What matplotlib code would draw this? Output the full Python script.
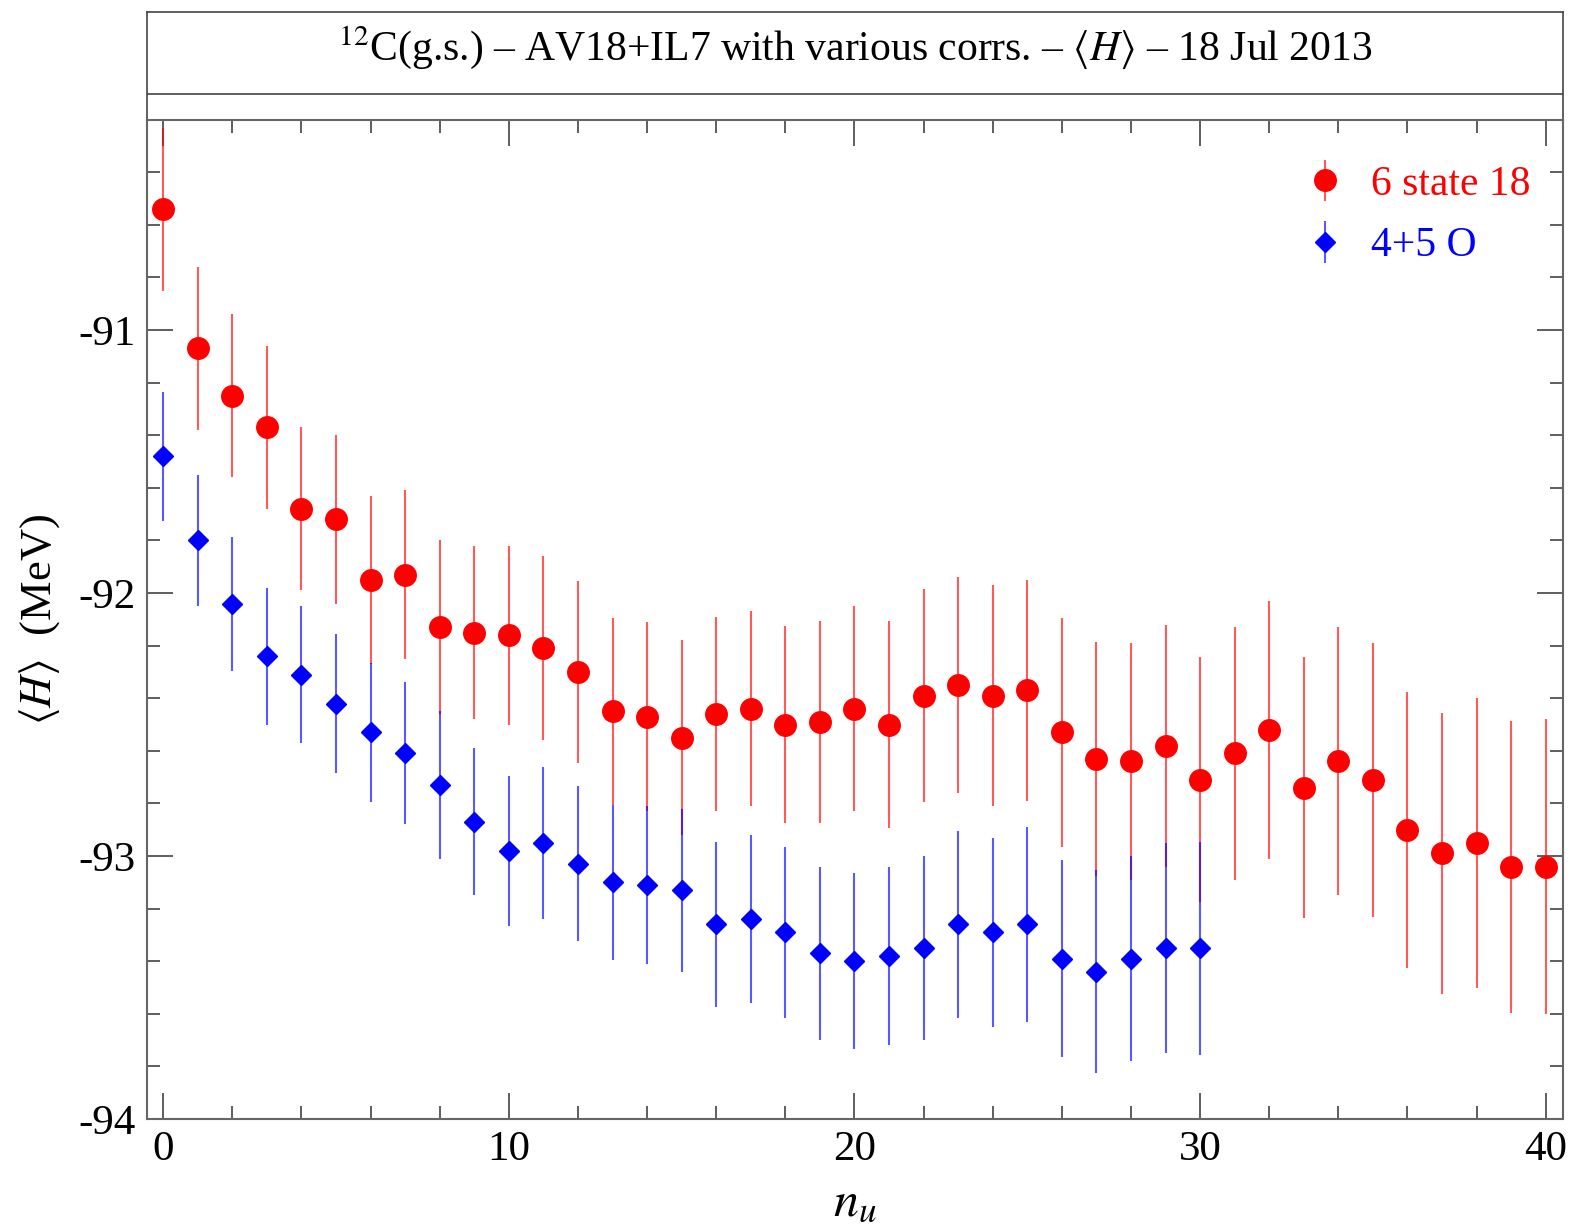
import numpy as np
import matplotlib
matplotlib.use("Agg")
import matplotlib.pyplot as plt
from matplotlib.ticker import MultipleLocator

plt.rcParams['font.family'] = ['Liberation Serif', 'DejaVu Serif']
plt.rcParams['mathtext.fontset'] = 'stix'

# 6 state 18
n_red = np.arange(0, 41)
h_red = [-90.54, -91.07, -91.25, -91.37, -91.68, -91.72, -91.95, -91.93, -92.13, -92.15,
         -92.16, -92.21, -92.30, -92.45, -92.47, -92.55, -92.46, -92.44, -92.50, -92.49,
         -92.44, -92.50, -92.39, -92.35, -92.39, -92.37, -92.53, -92.63, -92.64, -92.58,
         -92.71, -92.61, -92.52, -92.74, -92.64, -92.71, -92.90, -92.99, -92.95, -93.04,
         -93.04]
e_red = [0.31, 0.31, 0.31, 0.31, 0.31, 0.32, 0.32, 0.32, 0.33, 0.33,
         0.34, 0.35, 0.345, 0.355, 0.36, 0.37, 0.37, 0.37, 0.375, 0.385,
         0.39, 0.395, 0.405, 0.41, 0.42, 0.42, 0.435, 0.445, 0.45, 0.46,
         0.465, 0.48, 0.49, 0.495, 0.51, 0.52, 0.525, 0.535, 0.55, 0.555,
         0.56]

# 4+5 O
n_blue = np.arange(0, 31)
h_blue = [-91.48, -91.80, -92.04, -92.24, -92.31, -92.42, -92.53, -92.61, -92.73, -92.87,
          -92.98, -92.95, -93.03, -93.10, -93.11, -93.13, -93.26, -93.24, -93.29, -93.37,
          -93.40, -93.38, -93.35, -93.26, -93.29, -93.26, -93.39, -93.44, -93.39, -93.35,
          -93.35]
e_blue = [0.245, 0.25, 0.255, 0.26, 0.26, 0.265, 0.265, 0.27, 0.28, 0.28,
          0.285, 0.29, 0.295, 0.295, 0.30, 0.31, 0.315, 0.32, 0.325, 0.33,
          0.335, 0.34, 0.35, 0.355, 0.36, 0.37, 0.375, 0.385, 0.39, 0.40,
          0.405]

fig = plt.figure(figsize=(15.91, 12.29), dpi=100)

# title box
tax = fig.add_axes([0.0924, 0.9026, 0.9824 - 0.0924, 0.990 - 0.9026])
tax.set_xticks([])
tax.set_yticks([])
for s in tax.spines.values():
    s.set_color('#444444')
    s.set_linewidth(1.2)
tax.axhline(0.2366, color='#444444', lw=1.2)
tax.set_xlim(0, 1)
tax.set_ylim(0, 1)
tax.text(0.5, 0.67, r"$^{12}$C(g.s.) – AV18+IL7 with various corrs. – $\langle H\rangle$ – 18 Jul 2013",
         ha='center', va='center', fontsize=30)

ax = fig.add_axes([0.0924, 0.0895, 0.9824 - 0.0924, 0.9026 - 0.0895])

ax.errorbar(n_red, h_red, yerr=e_red, fmt='o', color='red', ms=15.5,
            ecolor=(1, 0, 0, 0.65), elinewidth=1.5, capsize=0, label='6 state 18')
ax.errorbar(n_blue, h_blue, yerr=e_blue, fmt='D', color='blue', ms=10.5,
            ecolor=(0, 0, 1, 0.65), elinewidth=1.5, capsize=0, label='4+5 O')

ax.set_xlim(-0.47, 40.5)
ax.set_ylim(-94, -90.2)
ax.xaxis.set_major_locator(MultipleLocator(10))
ax.xaxis.set_minor_locator(MultipleLocator(2))
ax.yaxis.set_major_locator(MultipleLocator(1))
ax.yaxis.set_minor_locator(MultipleLocator(0.2))
ax.tick_params(which='both', direction='in', top=True, right=True, labelsize=31,
               color='#333333')
ax.tick_params(which='major', length=19, width=1.1, pad=8)
ax.tick_params(which='minor', length=9.5, width=1.1)
for s in ax.spines.values():
    s.set_color('#666666')
    s.set_linewidth(1.5)
ax.yaxis.set_major_formatter(plt.FuncFormatter(lambda v, p: '%d' % round(v)))

ax.set_xlabel(r"$n_u$", fontsize=36, labelpad=8)
ax.set_ylabel(r"$\langle H\rangle$  (MeV)", fontsize=32, labelpad=12)

leg = ax.legend(loc='upper right', bbox_to_anchor=(1.0095, 1.0), frameon=False,
                fontsize=30, handletextpad=0.6, labelspacing=0.55,
                borderaxespad=0.7, handlelength=1.0)
for txt, c in zip(leg.get_texts(), ['red', 'blue']):
    txt.set_color(c)

fig.savefig('out.png', dpi=100)
